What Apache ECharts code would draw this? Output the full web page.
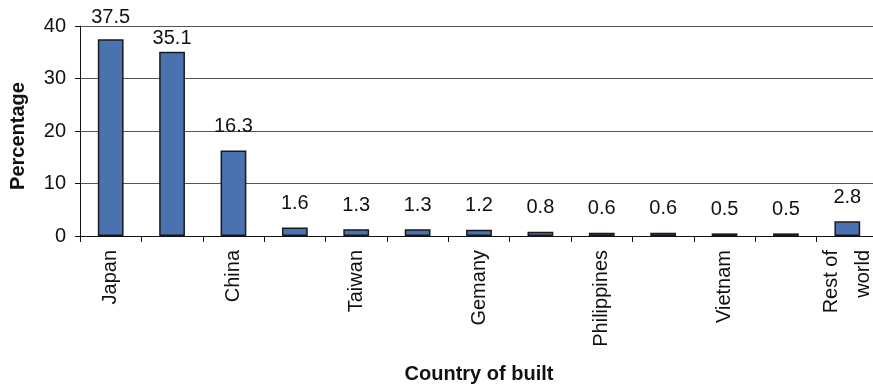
<!DOCTYPE html>
<html>
<head>
<meta charset="utf-8">
<script src="https://cdn.jsdelivr.net/npm/echarts@6/dist/echarts.min.js"></script>
<style>
  html, body { margin: 0; padding: 0; background: #fff; }
  #chart { width: 873px; height: 387px; }
</style>
</head>
<body>
<div id="chart"></div>
<script>
// 国家（部分标签在原图中未显示）
const countries = ['Japan', '', 'China', '', 'Taiwan', '', 'Gemany', '', 'Philippines', '', 'Vietnam', '', 'Rest of\nworld']
// 百分比
const percentages = [37.5, 35.1, 16.3, 1.6, 1.3, 1.3, 1.2, 0.8, 0.6, 0.6, 0.5, 0.5, 2.8]
const yTicks = [0, 10, 20, 30, 40]

const myChart = echarts.init(document.getElementById('chart'))

// 标签距离：原图中第二根柱子的标签离柱子更近
const barData = percentages.map((v, i) => {
  if (i === 1) return { value: v, label: { distance: 3 } }
  if (i === 0) return { value: v, label: { distance: 12 } }
  return v
})

const option = {
  animation: false,
  textStyle: { fontFamily: 'Liberation Sans, Arial, sans-serif' },
  grid: {
    left: 80,
    right: -5,
    top: 26,
    bottom: 151,
    outerBoundsMode: 'none',
    containLabel: false,
  },
  xAxis: {
    type: 'category',
    data: countries,
    name: 'Country of built',
    nameLocation: 'middle',
    nameGap: 128,
    nameTextStyle: { fontSize: 20, fontWeight: 'bold', color: '#111' },
    axisLine: { lineStyle: { color: '#111', width: 1 } },
    axisTick: { show: true, length: 6, lineStyle: { color: '#111' } },
    axisLabel: {
      interval: 0,
      rotate: 90,
      fontSize: 20,
      color: '#111',
      margin: 14,
      lineHeight: 32,
    },
  },
  yAxis: {
    type: 'value',
    min: yTicks[0],
    max: yTicks[yTicks.length - 1],
    interval: 10,
    name: 'Percentage',
    nameLocation: 'middle',
    nameGap: 52,
    nameTextStyle: { fontSize: 20, fontWeight: 'bold', color: '#111', padding: [0, 10, 0, 0] },
    axisLine: { show: true, lineStyle: { color: '#111' } },
    axisTick: { show: true, length: 5, lineStyle: { color: '#111' } },
    axisLabel: { fontSize: 20, color: '#111', margin: 14 },
    splitLine: { lineStyle: { color: '#555', width: 1 } },
  },
  series: [
    {
      type: 'bar',
      data: barData,
      barWidth: '42%',
      itemStyle: {
        color: '#4a71b0',
        borderColor: '#1a1a1a',
        borderWidth: 1.5,
      },
      label: {
        show: true,
        position: 'top',
        distance: 14,
        fontSize: 20,
        color: '#111',
      },
    },
  ],
}

myChart.setOption(option)
</script>
</body>
</html>
